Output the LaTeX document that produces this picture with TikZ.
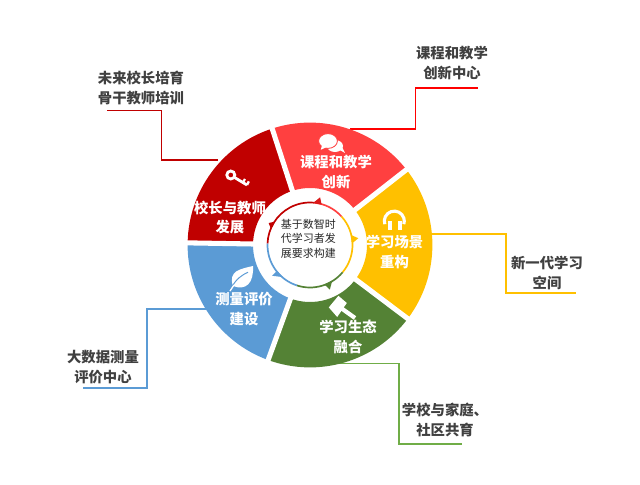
\documentclass[tikz,border=0pt]{standalone}
\usepackage{fontspec}
\setmainfont{Noto Sans CJK SC}
\definecolor{wheelred}{HTML}{FF4040}
\definecolor{wheeldark}{HTML}{C00000}
\definecolor{wheelgold}{HTML}{FFC000}
\definecolor{wheelgreen}{HTML}{548235}
\definecolor{wheelblue}{HTML}{5B9BD5}
\definecolor{leafgreen}{HTML}{70AD47}
\definecolor{labelgray}{HTML}{404040}
\tikzset{
	wheeltext/.style={text=white, font=\fontsize{10.2}{14.2}\selectfont\bfseries, align=center, inner sep=0pt},
	sidetext/.style={text=labelgray, font=\fontsize{10.2}{14.2}\selectfont\bfseries, align=center, inner sep=0pt},
	lead/.style={line width=1.1pt},
	gapline/.style={draw=white, line width=3.6pt},
	ringline/.style={line width=1.2pt},
	iconline/.style={draw=white, line width=1.7pt}
}

\begin{document}
\begin{tikzpicture}
	\useasboundingbox (-7.75,-5.975) rectangle (8.25,6.125);

	% leader lines
	\coordinate (wkey) at (-2.3,2.125);
	\coordinate (ckey) at (-3.71,2.125);
	\coordinate (lkey) at (-5.08,3.36);
	\coordinate (wtalk) at (1,2.9);
	\coordinate (ctalk) at (2.64,2.9);
	\coordinate (ltalk) at (4.2,3.925);
	\coordinate (wgold) at (3,0.275);
	\coordinate (cgold) at (4.9,0.275);
	\coordinate (lgold) at (6.64,-1.2);
	\coordinate (wgreen) at (0.55,-2.96);
	\coordinate (cgreen) at (2.22,-2.96);
	\coordinate (lgreen) at (3.8,-4.975);
	\coordinate (wblue) at (-2.6,-1.6);
	\coordinate (cblue) at (-4.08,-1.6);
	\coordinate (lblue) at (-5.675,-3.575);
	\draw[lead, wheeldark] (wkey) -- (ckey) |- (lkey);
	\draw[lead, red] (wtalk) -- (ctalk) |- (ltalk);
	\draw[lead, wheelgold] (wgold) -- (cgold) |- (lgold);
	\draw[lead, leafgreen] (wgreen) -- (cgreen) |- (lgreen);
	\draw[lead, wheelblue] (wblue) -- (cblue) |- (lblue);

	% wedges
	\fill[wheelred] (38:3.06) arc[start angle=38, end angle=108, radius=3.06] -- (108:1.425) arc[start angle=108, end angle=38, radius=1.425] -- cycle;
	\fill[wheeldark] (108:3.06) arc[start angle=108, end angle=179, radius=3.06] -- (179:1.425) arc[start angle=179, end angle=108, radius=1.425] -- cycle;
	\fill[wheelblue] (179:3.06) arc[start angle=179, end angle=250, radius=3.06] -- (250:1.425) arc[start angle=250, end angle=179, radius=1.425] -- cycle;
	\fill[wheelgreen] (250:3.06) arc[start angle=250, end angle=323, radius=3.06] -- (323:1.425) arc[start angle=323, end angle=250, radius=1.425] -- cycle;
	\fill[wheelgold] (323:3.06) arc[start angle=323, end angle=398, radius=3.06] -- (398:1.425) arc[start angle=398, end angle=323, radius=1.425] -- cycle;
	\draw[gapline] (38:1.3) -- (38:3.2);
	\draw[gapline] (108:1.3) -- (108:3.2);
	\draw[gapline] (179:1.3) -- (179:3.2);
	\draw[gapline] (250:1.3) -- (250:3.2);
	\draw[gapline] (323:1.3) -- (323:3.2);

	% inner ring
	\draw[ringline, wheeldark] (178:1.0625) arc[start angle=178, end angle=84, radius=1.0625];
	\draw[ringline, wheelred] (84:1.0625) arc[start angle=84, end angle=42, radius=1.0625];
	\draw[ringline, wheelgold] (42:1.0625) arc[start angle=42, end angle=-40, radius=1.0625];
	\draw[ringline, wheelgreen] (-40:1.0625) arc[start angle=-40, end angle=-108, radius=1.0625];
	\draw[ringline, wheelblue] (-108:1.0625) arc[start angle=-108, end angle=-182, radius=1.0625];
	\fill[wheeldark] (146:1.05) -- (152:1.17) -- (158:1.05) -- cycle;
	\fill[wheeldark!60!wheelred] (74:1.05) -- (78:1.22) -- (86:1.05) -- cycle;
	\fill[wheelgold] (2:1.05) -- (8:1.22) -- (14:1.05) -- cycle;
	\fill[wheelgreen] (-70:1.05) -- (-66:1.22) -- (-58:1.05) -- cycle;
	\fill[wheelblue] (-142:1.05) -- (-141:1.22) -- (-130:1.05) -- cycle;

	% icons
	\draw[iconline, line width=2pt] (-1.98,1.75) circle (0.1);
	\draw[iconline, line width=2pt] (-1.89,1.69) -- (-1.575,1.5);
	\draw[iconline, line width=1.6pt] (-1.68,1.56) -- (-1.625,1.65);
	\draw[iconline, line width=1.6pt] (-1.575,1.5) -- (-1.53,1.59);
	\fill[white] (0.625,2.475) ellipse (0.2 and 0.15);
	\fill[white] (0.7,2.4) -- (0.875,2.3) -- (0.8,2.45) -- cycle;
	\draw[wheelred, fill=white, line width=0.6pt] (0.45,2.6) ellipse (0.235 and 0.185);
	\fill[white] (0.3,2.5) -- (0.27,2.38) -- (0.42,2.45) -- cycle;
	\draw[iconline, line width=2.2pt] (1.87,0.52) arc[start angle=198, end angle=-18, radius=0.25];
	\draw[iconline, line width=2.8pt] (1.99,0.6) -- (1.99,0.38);
	\draw[iconline, line width=2.8pt] (2.26,0.6) -- (2.26,0.38);
	\fill[white] (0.47,-1.56) -- (0.71,-1.27) -- (0.92,-1.45) -- (0.68,-1.8) -- cycle;
	\draw[iconline, line width=3pt] (0.775,-1.575) -- (1.125,-1.825);
	\fill[white] (-1.925,-1.025) .. controls (-2.05,-0.65) and (-1.75,-0.6) .. (-1.425,-0.525) .. controls (-1.4,-0.95) and (-1.6,-1.15) .. (-1.925,-1.025) -- cycle;
	\draw[wheelblue, line width=0.7pt] (-1.95,-1.05) .. controls (-1.85,-0.85) and (-1.7,-0.75) .. (-1.55,-0.68);
	\draw[white, line width=0.9pt] (-2,-1.15) -- (-1.9,-1);

	% texts
	\node[wheeltext] (talk) at (0.65,1.8375) {课程和教学\\创新};
	\node[wheeltext] (key) at (-2,0.6875) {校长与教师\\发展};
	\node[wheeltext] (phones) at (2.1125,-0.175) {学习场景\\重构};
	\node[wheeltext] (gavel) at (0.95,-2.3) {学习生态\\融合};
	\node[wheeltext] (leaf) at (-1.65,-1.6) {测量评价\\建设};
	\node[align=center, inner sep=0pt, text=black!85, font=\fontsize{7.8}{10.3}\selectfont] (hub) at (-0.04,0.16) {基于数智时\\代学习者发\\展要求构建};
	\node[sidetext] (lkeytext) at (-4.225,3.925) {未来校长培育\\骨干教师培训};
	\node[sidetext] (ltalktext) at (3.55,4.55) {课程和教学\\创新中心};
	\node[sidetext] (lgoldtext) at (5.925,-0.7) {新一代学习\\空间};
	\node[sidetext] (lgreentext) at (3.375,-4.375) {学校与家庭、\\社区共育};
	\node[sidetext] (lbluetext) at (-5.175,-3.05) {大数据测量\\评价中心};
\end{tikzpicture}
\end{document}
